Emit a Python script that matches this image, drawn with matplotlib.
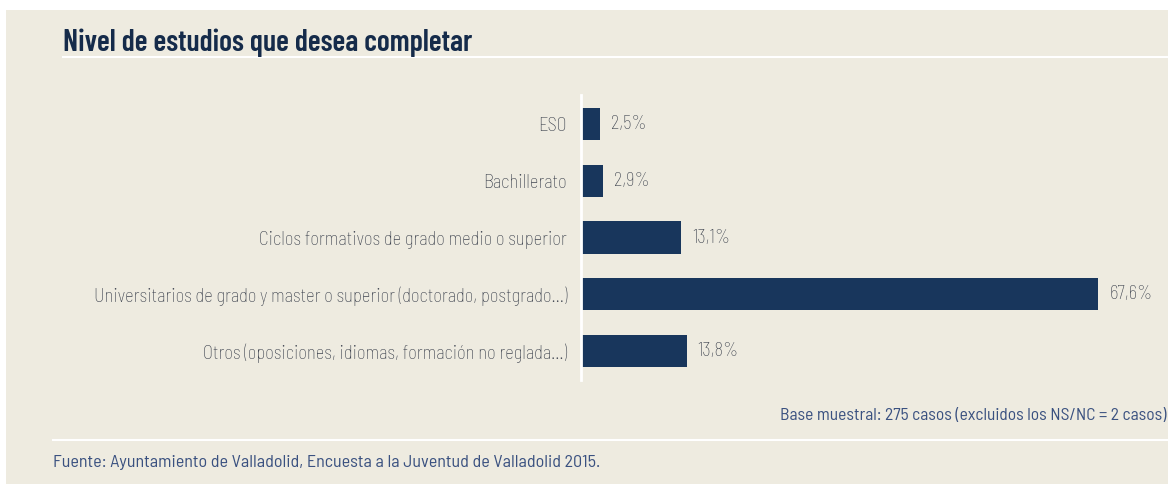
import matplotlib
matplotlib.use('Agg')
import matplotlib.pyplot as plt
from matplotlib.patches import Rectangle
from matplotlib.lines import Line2D

# === DATA ===
categorias = [
    "ESO",
    "Bachillerato",
    "Ciclos formativos de grado medio o superior",
    "Universitarios de grado y master o superior (doctorado, postgrado...)",
    "Otros (oposiciones, idiomas, formación no reglada...)",
]
valores = [2.5, 2.9, 13.1, 67.6, 13.8]
etiquetas = ["2,5%", "2,9%", "13,1%", "67,6%", "13,8%"]

# === COLOURS / FONTS ===
fondo = "#EEEBE0"
barra = "#18365C"
gris = "#3A404C"
azul = "#3A5180"
fuente = ['Barlow Semi Condensed', 'IBM Plex Sans Condensed', 'DejaVu Sans']
fuente_tit = ['Barlow Condensed', 'IBM Plex Sans Condensed', 'DejaVu Sans']
plt.rcParams['font.family'] = fuente

W, H = 1168, 484
fig = plt.figure(figsize=(W / 100, H / 100), dpi=100)
fig.patch.set_facecolor("white")
fig.patches.append(Rectangle((6 / W, 0), 1 - 6 / W, 1 - 10 / H,
                             transform=fig.transFigure, facecolor=fondo,
                             edgecolor="none", zorder=-10))

# axes placed in pixel terms
x0, x1 = 581, 1168
ytop, ybot = 95, 380
ax = fig.add_axes([x0 / W, 1 - ybot / H, (x1 - x0) / W, (ybot - ytop) / H])
ax.set_facecolor("none")
px_per_pct = 7.65
ax.set_xlim(0, (x1 - x0) / px_per_pct)
ax.set_ylim(4.51, -0.51)

pos = range(len(categorias))
ax.barh(pos, valores, height=0.57, color=barra, zorder=2)
for p, v, t in zip(pos, valores, etiquetas):
    ax.annotate(t, (v, p), xytext=(8, 0), textcoords="offset points",
                va="center", ha="left", fontsize=13.3, color=gris, fontweight="light")

ax.set_yticks(list(pos))
ax.set_yticklabels(categorias, fontsize=13.4, color=gris, fontweight="light")
ax.tick_params(axis="y", length=0, pad=10)
ax.set_xticks([])
for s in ["top", "right", "bottom"]:
    ax.spines[s].set_visible(False)
ax.spines["left"].set_color("white")
ax.spines["left"].set_linewidth(2)

# === TITLE, NOTES ===
fig.text(63 / W, 1 - 43 / H, "Nivel de estudios que desea completar",
         fontsize=21.5, fontweight="semibold", color="#152B4A", va="center",
         ha="left", family=fuente_tit)
fig.add_artist(Line2D([63 / W, 1], [1 - 57 / H, 1 - 57 / H],
                      transform=fig.transFigure, color="white", lw=1.5))
fig.text(1166 / W, 1 - 416 / H,
         "Base muestral: 275 casos (excluidos los NS/NC = 2 casos)",
         fontsize=12.6, color=azul, va="center", ha="right")
fig.add_artist(Line2D([53 / W, 1], [1 - 440 / H, 1 - 440 / H],
                      transform=fig.transFigure, color="white", lw=1.5))
fig.text(53 / W, 1 - 463 / H,
         "Fuente: Ayuntamiento de Valladolid, Encuesta a la Juventud de Valladolid 2015.",
         fontsize=13, color=azul, va="center", ha="left")

fig.savefig("out.png", dpi=100, facecolor=fig.get_facecolor())
